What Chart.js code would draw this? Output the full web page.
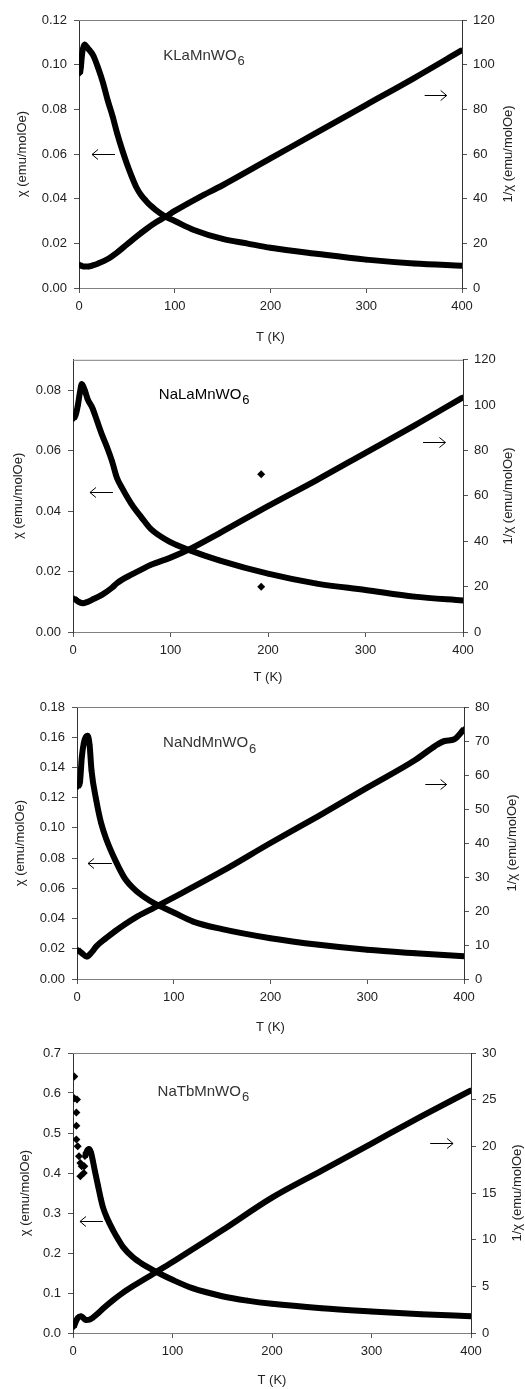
<!DOCTYPE html>
<html>
<head>
<meta charset="utf-8">
<script src="https://cdn.jsdelivr.net/npm/chart.js@4"></script>
<style>
  html, body { margin: 0; padding: 0; background: #fff; }
  body { width: 525px; height: 1389px; position: relative; overflow: hidden; }
  canvas { position: absolute; left: 0; }
</style>
</head>
<body>
<canvas id="c1" width="525" height="345" style="top:0px"></canvas>
<canvas id="c2" width="525" height="345" style="top:345px"></canvas>
<canvas id="c3" width="525" height="345" style="top:690px"></canvas>
<canvas id="c4" width="525" height="354" style="top:1035px"></canvas>
<script>
// KLaMnWO6
const klaChiT = [1, 2, 3, 4, 6, 8, 10, 15, 20, 25, 30, 35, 40, 45, 50, 55, 60, 65, 70, 75, 80, 90, 100, 120, 150, 175, 200, 250, 300, 350, 400];
const klaChi = [0.096, 0.099, 0.104, 0.107, 0.109, 0.108, 0.107, 0.104, 0.0985, 0.092, 0.084, 0.077, 0.069, 0.062, 0.0556, 0.050, 0.045, 0.0415, 0.039, 0.0368, 0.035, 0.032, 0.030, 0.026, 0.022, 0.020, 0.018, 0.0152, 0.0127, 0.011, 0.0100];
const klaInvT = [1, 3, 5, 10, 15, 20, 30, 40, 50, 60, 70, 80, 90, 100, 125, 150, 200, 250, 300, 350, 400];
const klaInv = [10.5, 9.8, 9.6, 9.6, 10.2, 11, 13, 16, 19.5, 23, 26.3, 29.3, 31.8, 34.5, 40.5, 46, 58, 70, 82, 94, 106.5];

// NaLaMnWO6
const nlaChiT = [1, 3, 5, 7, 9, 12, 15, 20, 25, 30, 35, 40, 45, 50, 60, 70, 80, 100, 120, 150, 200, 250, 300, 350, 400];
const nlaChi = [0.0705, 0.072, 0.075, 0.079, 0.082, 0.080, 0.077, 0.074, 0.0695, 0.065, 0.061, 0.0565, 0.051, 0.0478, 0.0423, 0.038, 0.034, 0.0297, 0.027, 0.0237, 0.0193, 0.016, 0.0139, 0.0117, 0.0104];
const nlaInvT = [1, 5, 10, 15, 20, 30, 40, 45, 50, 60, 70, 80, 100, 120, 150, 200, 250, 300, 350, 400];
const nlaInv = [14.9, 13.5, 12.7, 13.3, 14.3, 16.5, 19.5, 21.5, 23, 25.3, 27.5, 29.6, 32.8, 36.6, 43.5, 55.5, 67, 79, 91, 103.5];
const nlaOutT = [193];
const nlaOutChi = [0.015];
const nlaOutInv = [69.5];

// NaNdMnWO6
const nndChiT = [1, 3, 5, 7, 9, 11, 13, 15, 20, 25, 30, 40, 50, 60, 70, 80, 90, 100, 120, 150, 200, 250, 300, 350, 400];
const nndChi = [0.127, 0.130, 0.147, 0.156, 0.160, 0.161, 0.155, 0.138, 0.118, 0.103, 0.093, 0.078, 0.066, 0.059, 0.054, 0.050, 0.047, 0.044, 0.038, 0.033, 0.027, 0.0226, 0.0193, 0.017, 0.015];
const nndInvT = [1, 5, 10, 15, 20, 30, 40, 50, 60, 80, 100, 150, 200, 250, 300, 350, 370, 380, 390, 400];
const nndInv = [8.6, 7.6, 6.6, 7.8, 9.6, 12, 14.2, 16.2, 18, 21, 24, 31.7, 40, 48, 56.3, 64.5, 68.5, 70, 70.5, 73.5];

// NaTbMnWO6
const ntbLowT = [1.3, 1.3, 4, 3.4, 3.4, 3.4, 4.7, 6, 7.4, 8.7, 7.4, 10.8, 11.4, 13.4];
const ntbLowChi = [0.641, 0.587, 0.584, 0.551, 0.518, 0.484, 0.467, 0.442, 0.425, 0.417, 0.392, 0.40, 0.417, 0.45];
const ntbChiT = [12, 14, 16, 18, 20, 22, 25, 28, 30, 35, 40, 45, 50, 60, 70, 80, 90, 100, 120, 150, 175, 200, 250, 300, 350, 400];
const ntbChi = [0.44, 0.455, 0.46, 0.452, 0.43, 0.405, 0.37, 0.335, 0.315, 0.283, 0.258, 0.236, 0.216, 0.19, 0.172, 0.158, 0.145, 0.133, 0.112, 0.092, 0.081, 0.073, 0.062, 0.054, 0.047, 0.042];
const ntbInvT = [1, 2, 5, 8, 10, 13, 17, 20, 25, 30, 40, 50, 60, 80, 100, 125, 150, 200, 250, 300, 350, 400];
const ntbInv = [0.65, 1.0, 1.65, 1.8, 1.65, 1.4, 1.45, 1.65, 2.1, 2.6, 3.5, 4.3, 5.0, 6.3, 7.6, 9.3, 11.0, 14.5, 17.4, 20.3, 23.2, 26.0];

const xTicks = [0, 100, 200, 300, 400];
const leftTitle = 'χ (emu/molOe)';
const rightTitle = '1/χ (emu/molOe)';
const xTitle = 'T (K)';

const pts = (xs, ys) => xs.map((x, i) => ({ x: x, y: ys[i] }));

function curve(xs, ys, axis) {
  return {
    data: pts(xs, ys), yAxisID: axis, showLine: true,
    borderColor: '#000', backgroundColor: '#000', borderWidth: 6,
    cubicInterpolationMode: 'monotone',
    pointStyle: 'rectRot', pointRadius: 3, pointBorderWidth: 0
  };
}
function dots(xs, ys, axis) {
  return {
    data: pts(xs, ys), yAxisID: axis, showLine: false,
    borderColor: '#000', backgroundColor: '#000',
    pointStyle: 'rectRot', pointRadius: 4, pointBorderWidth: 0
  };
}

const decor = {
  id: 'decor',
  afterDraw(chart) {
    const o = chart.options.plugins.decor;
    const { ctx, chartArea: a, scales } = chart;
    const x = scales.x, y = scales.y, y2 = scales.y2;
    ctx.save();
    // top border
    ctx.strokeStyle = '#808080';
    ctx.lineWidth = 1;
    ctx.beginPath();
    ctx.moveTo(a.left, a.top + 0.5);
    ctx.lineTo(a.right, a.top + 0.5);
    ctx.stroke();

    // compound label with subscript
    ctx.fillStyle = o.labelColor;
    ctx.font = o.labelFont;
    ctx.textBaseline = 'middle';
    ctx.textAlign = 'left';
    const lx = x.getPixelForValue(o.label[0]);
    const ly = y.getPixelForValue(o.label[1]);
    ctx.fillText(o.label[2], lx, ly);
    const w = ctx.measureText(o.label[2]).width;
    ctx.font = o.subFont;
    ctx.fillText('6', lx + w + 1, ly + 6);

    // arrows
    ctx.strokeStyle = '#000';
    ctx.lineWidth = 1;
    const arrow = (x0, x1, py, dir) => {
      ctx.beginPath();
      ctx.moveTo(x0, py); ctx.lineTo(x1, py);
      const tip = dir < 0 ? x0 : x1;
      ctx.moveTo(tip - dir * 6, py - 5); ctx.lineTo(tip, py); ctx.lineTo(tip - dir * 6, py + 5);
      ctx.stroke();
    };
    const la = o.leftArrow, ra = o.rightArrow;
    arrow(x.getPixelForValue(la[0]), x.getPixelForValue(la[1]), Math.round(y.getPixelForValue(la[2])) + 0.5, -1);
    arrow(x.getPixelForValue(ra[0]), x.getPixelForValue(ra[1]), Math.round(y2.getPixelForValue(ra[2])) + 0.5, 1);

    // axis titles
    ctx.fillStyle = '#222';
    ctx.font = '13px "Liberation Sans", Arial, sans-serif';
    ctx.textAlign = 'center';
    ctx.textBaseline = 'middle';
    const midY = (a.top + a.bottom) / 2;
    ctx.fillText(xTitle, (a.left + a.right) / 2, a.bottom + o.xTitleOff);
    ctx.save();
    ctx.translate(o.leftTitleX, midY);
    ctx.rotate(-Math.PI / 2);
    ctx.fillText(leftTitle, 0, 0);
    ctx.restore();
    ctx.save();
    ctx.translate(o.rightTitleX, midY);
    ctx.rotate(-Math.PI / 2);
    ctx.fillText(rightTitle, 0, 0);
    ctx.restore();
    ctx.restore();
  }
};

const tickFont = { family: '"Liberation Sans", Arial, sans-serif', size: 13 };

function makePanel(id, p) {
  const axisGrid = { drawOnChartArea: false, tickLength: 5, color: '#555' };
  new Chart(document.getElementById(id), {
    type: 'scatter',
    data: { datasets: p.datasets },
    options: {
      responsive: false,
      animation: false,
      devicePixelRatio: 1,
      layout: { padding: { top: p.padTop, left: 0, right: 0, bottom: 0 } },
      plugins: {
        legend: { display: false },
        tooltip: { enabled: false },
        decor: p.decor
      },
      scales: {
        x: {
          type: 'linear', min: 0, max: 400,
          afterBuildTicks: s => { s.ticks = xTicks.map(v => ({ value: v })); },
          ticks: { font: tickFont, color: '#222', padding: 6, maxRotation: 0 },
          grid: axisGrid,
          border: { color: '#808080' },
          afterFit: s => { s.height = p.xHeight; }
        },
        y: {
          position: 'left', min: 0, max: p.yMax,
          ticks: { stepSize: p.yStep, font: tickFont, color: '#222', padding: 7,
                   callback: v => (v > p.yLastTick + 1e-9 ? '' : v.toFixed(p.yDec)) },
          grid: {
            drawOnChartArea: false, tickLength: 5,
            color: c => (c.tick && c.tick.value > p.yLastTick + 1e-9 ? 'rgba(0,0,0,0)' : '#555')
          },
          border: { color: '#333' },
          afterFit: s => { s.width = p.left; }
        },
        y2: {
          position: 'right', min: 0, max: p.y2Max,
          ticks: { stepSize: p.y2Step, font: tickFont, color: '#222', padding: 6 },
          grid: axisGrid,
          border: { color: '#333' },
          afterFit: s => { s.width = 525 - p.right; }
        }
      }
    },
    plugins: [decor]
  });
}

makePanel('c1', {
  padTop: 20, xHeight: 57, left: 79, right: 462,
  yMax: 0.12, yStep: 0.02, yDec: 2, yLastTick: 0.12, y2Max: 120, y2Step: 20,
  datasets: [curve(klaChiT, klaChi, 'y'), curve(klaInvT, klaInv, 'y2')],
  decor: {
    label: [88, 0.104, 'KLaMnWO'], labelColor: '#333',
    labelFont: '15px "Liberation Sans", Arial, sans-serif', subFont: '13px "Liberation Sans", Arial, sans-serif',
    leftArrow: [13.6, 37.6, 0.06], rightArrow: [361, 384, 86.4],
    xTitleOff: 49, leftTitleX: 22, rightTitleX: 508
  }
});

makePanel('c2', {
  padTop: 13, xHeight: 58, left: 73, right: 463,
  yMax: 0.09, yStep: 0.02, yDec: 2, yLastTick: 0.08, y2Max: 120, y2Step: 20,
  datasets: [curve(nlaChiT, nlaChi, 'y'), curve(nlaInvT, nlaInv, 'y2'),
             dots(nlaOutT, nlaOutChi, 'y'), dots(nlaOutT, nlaOutInv, 'y2')],
  decor: {
    label: [88, 0.0785, 'NaLaMnWO'], labelColor: '#000',
    labelFont: '15px "Liberation Sans", Arial, sans-serif', subFont: '13px "Liberation Sans", Arial, sans-serif',
    leftArrow: [17.4, 41, 0.0464], rightArrow: [359, 382, 83.6],
    xTitleOff: 45, leftTitleX: 18, rightTitleX: 508
  }
});

makePanel('c3', {
  padTop: 17, xHeight: 56, left: 77, right: 464,
  yMax: 0.18, yStep: 0.02, yDec: 2, yLastTick: 0.18, y2Max: 80, y2Step: 10,
  datasets: [curve(nndChiT, nndChi, 'y'), curve(nndInvT, nndInv, 'y2')],
  decor: {
    label: [89, 0.156, 'NaNdMnWO'], labelColor: '#333',
    labelFont: '15px "Liberation Sans", Arial, sans-serif', subFont: '13px "Liberation Sans", Arial, sans-serif',
    leftArrow: [11.4, 36, 0.0768], rightArrow: [360, 382, 57.4],
    xTitleOff: 48, leftTitleX: 20, rightTitleX: 512
  }
});

makePanel('c4', {
  padTop: 18, xHeight: 56, left: 73, right: 471,
  yMax: 0.7, yStep: 0.1, yDec: 1, yLastTick: 0.7, y2Max: 30, y2Step: 5,
  datasets: [dots(ntbLowT, ntbLowChi, 'y'), curve(ntbChiT, ntbChi, 'y'), curve(ntbInvT, ntbInv, 'y2')],
  decor: {
    label: [85, 0.603, 'NaTbMnWO'], labelColor: '#333',
    labelFont: '15px "Liberation Sans", Arial, sans-serif', subFont: '13px "Liberation Sans", Arial, sans-serif',
    leftArrow: [7, 30, 0.281], rightArrow: [359, 382, 20.4],
    xTitleOff: 47, leftTitleX: 25, rightTitleX: 517
  }
});
</script>
</body>
</html>
